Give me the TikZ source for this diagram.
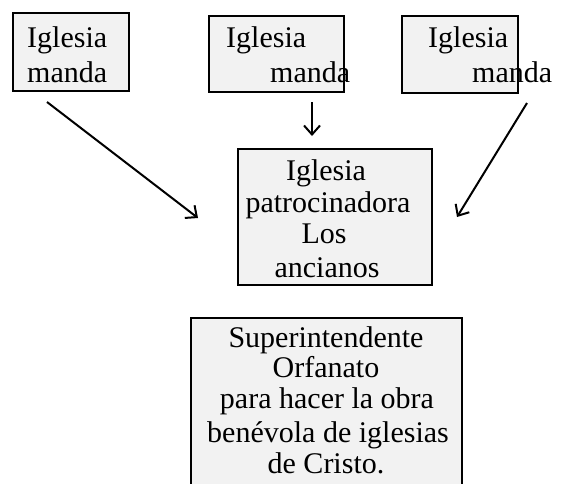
\documentclass[tikz,border=0pt]{standalone}
\usepackage{fontspec}
\setmainfont{Liberation Serif}
\usetikzlibrary{arrows.meta}
\definecolor{boxfill}{HTML}{F2F2F2}
\begin{document}
\begin{tikzpicture}[x=1pt,y=-1pt,
  box/.style={draw=black, line width=2.3pt, fill=boxfill, inner sep=0pt},
  txt/.style={inner sep=0pt, font=\fontsize{30}{32}\selectfont},
  arr/.style={line width=2pt, -{Straight Barb[length=9pt,width=16pt]}}]
\useasboundingbox (0,0) rectangle (562,483);
\clip (0,0) rectangle (562,483);
\fill[white] (0,0) rectangle (562,483);
% boxes
\node[box, minimum width=116pt, minimum height=78pt] (b1) at (71,52) {};
\node[box, minimum width=135pt, minimum height=76pt] (b2) at (276.5,54) {};
\node[box, minimum width=116pt, minimum height=77pt] (b3) at (460,54.5) {};
\node[box, minimum width=194pt, minimum height=136pt] (b4) at (335,217) {};
\node[box, minimum width=271pt, minimum height=182pt] (b5) at (326.5,409) {};
% texts of top boxes
\node[txt, anchor=base west] (t1a) at (27,47) {Iglesia};
\node[txt, anchor=base west] (t1b) at (27,82) {manda};
\node[txt, anchor=base west] (t2a) at (226,47) {Iglesia};
\node[txt, anchor=base west] (t2b) at (270,82) {manda};
\node[txt, anchor=base west] (t3a) at (428,47) {Iglesia};
\node[txt, anchor=base west] (t3b) at (472,82) {manda};
% middle box
\node[txt, anchor=base] (t4a) at (326,180) {Iglesia};
\node[txt, anchor=base] (t4b) at (328,212) {patrocinadora};
\node[txt, anchor=base] (t4c) at (324,243) {Los};
\node[txt, anchor=base] (t4d) at (327,277) {ancianos};
% bottom box
\node[txt, anchor=base] (t5a) at (326,347) {Superintendente};
\node[txt, anchor=base] (t5b) at (326,377) {Orfanato};
\node[txt, anchor=base] (t5c) at (327,408) {para hacer la obra};
\node[txt, anchor=base] (t5d) at (328,442) {benévola de iglesias};
\node[txt, anchor=base] (t5e) at (326,473) {de Cristo.};
% arrows
\coordinate (a1s) at (47,102);
\coordinate (a1e) at (198,218);
\coordinate (a2s) at (312,102);
\coordinate (a2e) at (312,136);
\coordinate (a3s) at (527,103);
\coordinate (a3e) at (457,217);
\draw[arr] (a1s) -- (a1e);
\draw[arr] (a2s) -- (a2e);
\draw[arr] (a3s) -- (a3e);
\end{tikzpicture}
\end{document}
